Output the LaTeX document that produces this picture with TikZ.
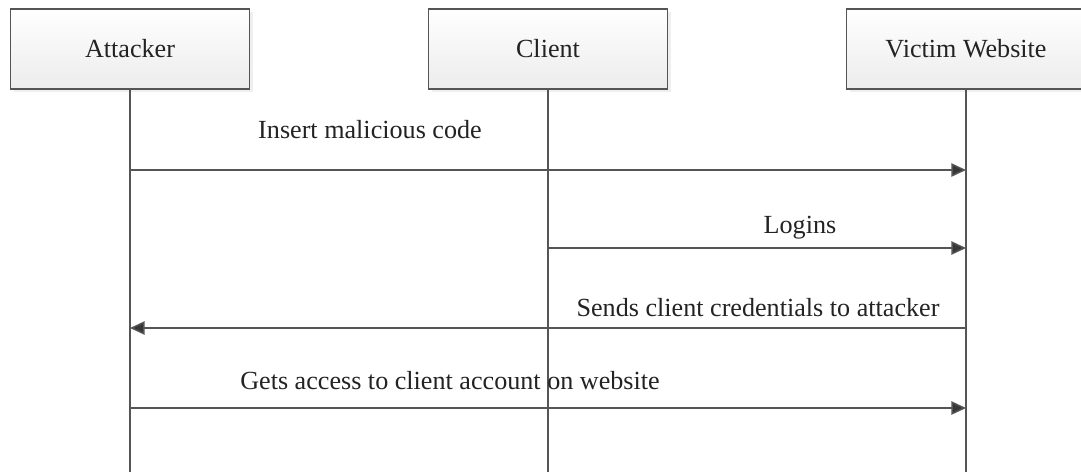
\documentclass[tikz,border=0pt]{standalone}
\usepackage{fontspec}
\setmainfont{Liberation Serif}
\usepackage{tikz}
\usetikzlibrary{arrows.meta,shadows}

\tikzset{
  actor/.style={draw={rgb,255:red,85;green,85;blue,85}, line width=1.1pt, top color=white, bottom color={rgb,255:red,236;green,236;blue,236},
    minimum width=179pt, minimum height=60pt, inner sep=0pt,
    drop shadow={opacity=0.12, shadow xshift=2.5pt, shadow yshift=-2.5pt},
    font=\fontsize{19.6}{23}\selectfont, text={rgb,255:red,35;green,35;blue,35}},
  life/.style={draw={rgb,255:red,85;green,85;blue,85}, line width=1.1pt},
  msg/.style={draw={rgb,255:red,85;green,85;blue,85}, line width=1.1pt, -{Triangle[length=11pt,width=10pt,fill={rgb,255:red,55;green,55;blue,55}]}},
  lbl/.style={font=\fontsize{19.6}{23}\selectfont, text={rgb,255:red,35;green,35;blue,35}, inner sep=0pt}
}

\begin{document}
\begin{tikzpicture}[x=0.75pt,y=0.75pt,yscale=-1]
\clip (0,0) rectangle (1081,472);
\fill[white] (0,0) rectangle (1081,472);

%Actors
\node[actor] (attacker) at (130,49) {Attacker};
\node[actor] (client) at (548,49) {Client};
\node[actor] (victim) at (966,49) {Victim Website};

%Lifelines
\coordinate (attacker end) at (130,472);
\coordinate (client end) at (548,472);
\coordinate (victim end) at (966,472);
\draw[life] (attacker.south) -- (attacker end);
\draw[life] (client.south) -- (client end);
\draw[life] (victim.south) -- (victim end);

%Messages
\draw[msg] (attacker |- 0,170) -- (victim |- 0,170);
\node[lbl] (m1) at (370,130) {Insert malicious code};

\draw[msg] (client |- 0,248) -- (victim |- 0,248);
\node[lbl] (m2) at (800,228) {Logins};

\draw[msg] (victim |- 0,328) -- (attacker |- 0,328);
\node[lbl] (m3) at (758,308) {Sends client credentials to attacker};

\draw[msg] (attacker |- 0,408) -- (victim |- 0,408);
\node[lbl] (m4) at (450,381) {Gets access to client account on website};

\end{tikzpicture}
\end{document}
